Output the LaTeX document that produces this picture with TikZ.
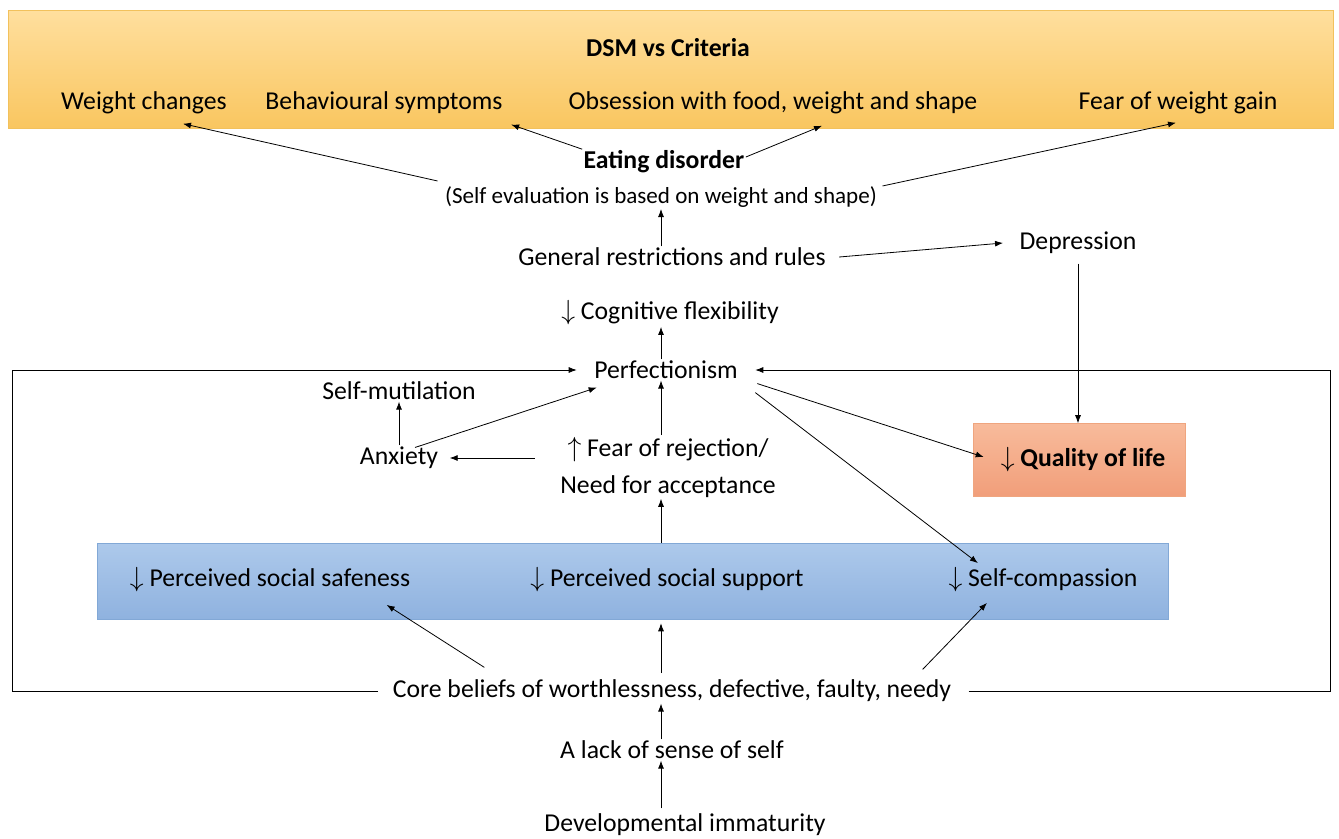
\documentclass[tikz,border=0pt]{standalone}
\usepackage{fontspec}
\setmainfont{Carlito}
\usetikzlibrary{arrows.meta,calc}

\definecolor{critTop}{HTML}{FFDF9E}
\definecolor{critBot}{HTML}{F9C660}
\definecolor{critLine}{HTML}{F2C15C}
\definecolor{qolTop}{HTML}{F8BB9B}
\definecolor{qolBot}{HTML}{F19E7A}
\definecolor{qolLine}{HTML}{EFA57F}
\definecolor{socTop}{HTML}{ADC9EB}
\definecolor{socBot}{HTML}{8FB2DF}
\definecolor{socLine}{HTML}{82A8D6}

\tikzset{
  txt/.style={inner sep=1pt, font=\fontsize{19.3}{22}\selectfont},
  btxt/.style={inner sep=1pt, font=\fontsize{19.3}{22}\selectfont\bfseries},
  stxt/.style={inner sep=1pt, font=\fontsize{17.3}{20}\selectfont},
  arr/.style={-{Latex[length=6pt,width=4.5pt]}, line width=0.6pt},
  critbox/.style={draw=critLine, top color=critTop, bottom color=critBot},
  qolbox/.style={draw=qolLine, top color=qolTop, bottom color=qolBot},
  socbox/.style={draw=socLine, top color=socTop, bottom color=socBot}
}

\begin{document}
\begin{tikzpicture}[x=0.75pt, y=-0.75pt]
\useasboundingbox (0,0) rectangle (1339,839);

% DSM band
\node[critbox, minimum width=993.75pt, minimum height=88.5pt] (crit) at (670.5,69) {};
\node[btxt] (dsm) at (668,48) {DSM vs Criteria};
\node[txt] (wc) at (144,103) {Weight changes};
\node[txt] (bs) at (384,103) {Behavioural symptoms};
\node[txt] (ob) at (773,103) {Obsession with food, weight and shape};
\node[txt] (fw) at (1178,103) {Fear of weight gain};

% eating disorder and what feeds it
\node[btxt] (ed) at (664,162) {Eating disorder};
\node[stxt] (sev) at (661,197) {(Self evaluation is based on weight and shape)};
\node[txt] (gen) at (672,257) {General restrictions and rules};
\node[txt] (dep) at (1078,243) {Depression};
\node[txt] (cog) at (670,313) {$\downarrow$ Cognitive flexibility};
\node[txt] (perf) at (666,370) {Perfectionism};
\node[txt] (sm) at (399,391) {Self-mutilation};
\node[txt] (anx) at (399,458) {Anxiety};
\node[txt, align=center, font=\fontsize{19.3}{27.75}\selectfont] (fear) at (668,467)
  {$\uparrow$ Fear of rejection/\\Need for acceptance};
\node[qolbox, minimum width=159pt, minimum height=54.75pt] (qol) at (1079,460) {};
\node[btxt] (qoltxt) at (1083,460) {$\downarrow$ Quality of life};

% social band
\node[socbox, minimum width=803.25pt, minimum height=57pt] (soc) at (632.5,581) {};
\node[txt] (saf) at (270,580) {$\downarrow$ Perceived social safeness};
\node[txt] (sup) at (667,580) {$\downarrow$ Perceived social support};
\node[txt] (sc) at (1043,580) {$\downarrow$ Self-compassion};

% roots
\node[txt] (core) at (672,691) {Core beliefs of worthlessness, defective, faulty, needy};
\node[txt] (lack) at (672,750) {A lack of sense of self};
\node[txt] (dev) at (685,825) {Developmental immaturity};

\coordinate (axis) at (661,0);
\coordinate (frL) at (12,0);
\coordinate (frR) at (1330,0);

% into the DSM criteria
\draw[arr] ($(sev.north west)+(-6,-4)$) -- ($(wc.south)+(39,8)$);
\draw[arr] (ed.north west) -- ($(bs.south east)+(7,9)$);
\draw[arr] ($(ed.east)+(0,-5)$) -- ($(ob.south)+(49,10)$);
\draw[arr] ($(sev.north east)+(4,1)$) -- ($(fw.south)+(-2,7)$);

% middle column
\draw[arr] (gen.north -| axis) -- (sev.south -| axis);
\draw[arr] ($(gen.east)+(12,0)$) -- ($(dep.west)+(-15,0)$);
\draw[arr, shorten <=6pt] (dep.south) -- (qol.north -| dep.south);
\draw[arr] (perf.north -| axis) -- (cog.south -| axis);
\draw[arr] (fear.north -| axis) -- (perf.south -| axis);
\draw[arr] (soc.north -| axis) -- (fear.south -| axis);
\draw[arr, shorten <=4pt, shorten >=3pt] (core.north -| axis) -- (soc.south -| axis);
\draw[arr] (lack.north -| axis) -- (core.south -| axis);
\draw[arr, shorten <=3pt] (dev.north -| axis) -- (lack.south -| axis);

% anxiety side
\draw[arr] (anx.north) -- (sm.south);
\draw[arr] ($(anx.north)+(16,2)$) -- ($(perf.south west)+(4,7)$);
\draw[arr] ($(anx.east -| fear.west)+(-24,0)$) -- ($(anx.east)+(10,0)$);

% out of perfectionism
\draw[arr] ($(perf.south east)+(18,3)$) -- ($(qol.west)+(11,-3)$);
\draw[arr] ($(perf.south east)+(16,12)$) -- ($(sc.north west)+(31,-3)$);

% out of core beliefs
\draw[arr] ($(core.north west)+(93,-11)$) -- ($(saf.south east)+(-25,11)$);
\draw[arr] ($(core.north east)+(-30,-9)$) -- ($(sc.south west)+(40,9)$);

% feedback frame
\draw[arr, shorten <=10pt, shorten >=12pt]
  (core.west) -- (core.west -| frL) -- (perf.west -| frL) -- (perf.west);
\draw[arr, shorten <=12pt, shorten >=12pt]
  (core.east) -- (core.east -| frR) -- (perf.east -| frR) -- (perf.east);
\end{tikzpicture}
\end{document}
